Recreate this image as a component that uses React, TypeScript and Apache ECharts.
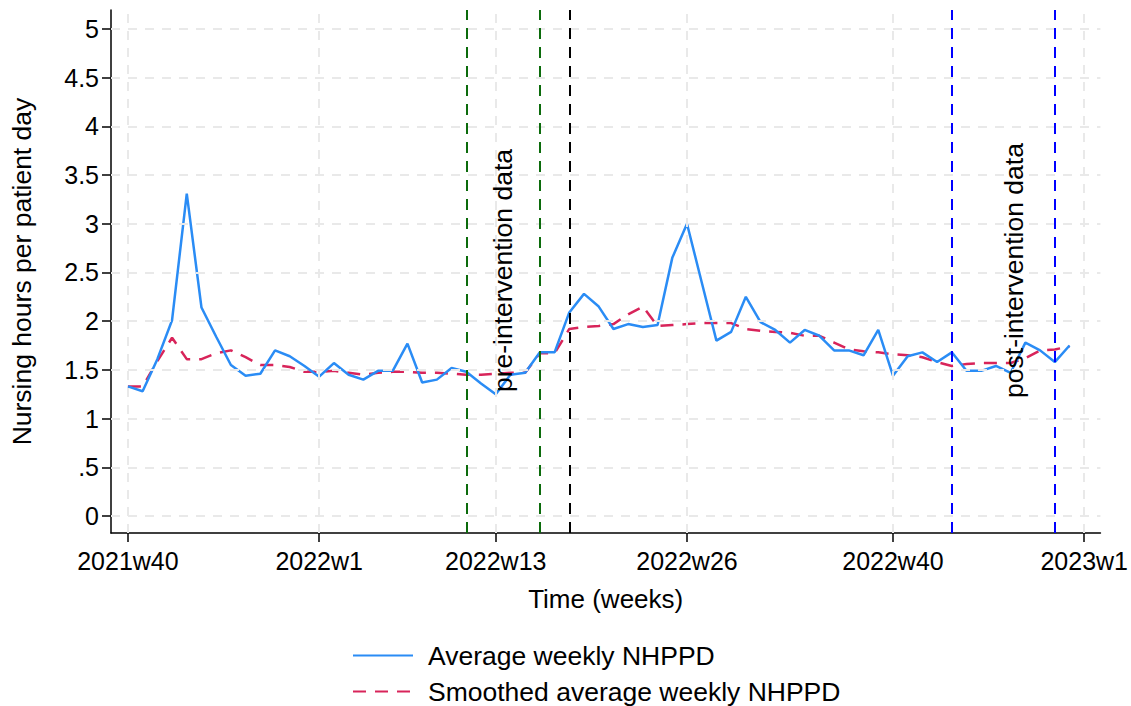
import React, { useEffect, useRef } from "react";
import * as echarts from "echarts";

// week index 0 = 2021w40
const xTickValues = [0, 13, 25, 38, 52, 65];
const xTickLabels = ["2021w40", "2022w1", "2022w13", "2022w26", "2022w40", "2023w1"];
const yTickValues = [0, 0.5, 1, 1.5, 2, 2.5, 3, 3.5, 4, 4.5, 5];
const yTickLabels = ["0", ".5", "1", "1.5", "2", "2.5", "3", "3.5", "4", "4.5", "5"];

const avgWeekly = [
  1.33, 1.28, 1.61, 2.01, 3.31, 2.14, 1.84, 1.55, 1.44, 1.46,
  1.70, 1.64, 1.54, 1.43, 1.57, 1.45, 1.40, 1.49, 1.49, 1.77,
  1.37, 1.40, 1.52, 1.48, 1.36, 1.25, 1.45, 1.47, 1.68, 1.68,
  2.09, 2.28, 2.15, 1.92, 1.97, 1.94, 1.96, 2.65, 3.00, 2.40,
  1.80, 1.89, 2.25, 1.99, 1.91, 1.78, 1.91, 1.85, 1.70, 1.70,
  1.65, 1.91, 1.44, 1.64, 1.68, 1.58, 1.68, 1.49, 1.49, 1.54,
  1.47, 1.78, 1.70, 1.58, 1.75,
];

const smoothed = [
  1.33, 1.33, 1.59, 1.83, 1.61, 1.61, 1.67, 1.70, 1.63, 1.55,
  1.55, 1.53, 1.48, 1.48, 1.49, 1.47, 1.45, 1.47, 1.48, 1.48,
  1.47, 1.47, 1.46, 1.45, 1.45, 1.46, 1.47, 1.47, 1.67, 1.67,
  1.92, 1.94, 1.95, 1.97, 2.07, 2.15, 1.95, 1.96, 1.97, 1.98,
  1.98, 1.98, 1.92, 1.90, 1.89, 1.88, 1.85, 1.85, 1.78, 1.71,
  1.69, 1.68, 1.66, 1.65, 1.63, 1.58, 1.54, 1.56, 1.57, 1.57,
  1.57, 1.62, 1.70, 1.71, 1.74,
];

// reference week lines (week index)
const preLines = [23, 28];
const interventionLine = [30];
const postLines = [56, 63];

const annotations = [
  { x: 25.5, y: 2.52, text: "pre-intervention data" },
  { x: 60.2, y: 2.52, text: "post-intervention data" },
];

const FONT = "'Liberation Sans', Arial, Helvetica, sans-serif";

export default function App() {
  const ref = useRef<HTMLDivElement>(null);

  useEffect(() => {
    if (!ref.current) return;
    const chart = echarts.init(ref.current, undefined, { renderer: "svg" });

    const gridDash = { color: "#e9e9e9", width: 2, type: [9, 8] as any };
    const refLine = (vals: number[], color: string) =>
      vals.map((v) => ({ xAxis: v, lineStyle: { color, width: 2, type: [11, 8] as any } }));

    const option: any = {
      animation: false,
      backgroundColor: "#ffffff",
      textStyle: { fontFamily: FONT },
      grid: { left: 110, right: 29, top: 10, bottom: 173 },
      xAxis: {
        type: "value",
        min: -1.15,
        max: 66.1,
        name: "Time (weeks)",
        nameLocation: "middle",
        nameGap: 53,
        nameTextStyle: { fontSize: 26, color: "#000", fontFamily: FONT },
        axisLine: { show: true, onZero: false, lineStyle: { color: "#000", width: 1.5 } },
        axisTick: { show: true, length: 9, lineStyle: { color: "#000", width: 1.5 }, customValues: xTickValues },
        axisLabel: {
          customValues: xTickValues,
          fontSize: 25,
          color: "#000",
          fontFamily: FONT,
          margin: 15,
          formatter: (v: number) => {
            const i = xTickValues.indexOf(Math.round(v));
            return i >= 0 ? xTickLabels[i] : "";
          },
        },
        splitLine: { show: false },
      },
      yAxis: {
        type: "value",
        min: -0.175,
        max: 5.195,
        name: "Nursing hours per patient day",
        nameLocation: "middle",
        nameGap: 76,
        nameRotate: 90,
        nameTextStyle: { fontSize: 26.5, color: "#000", fontFamily: FONT },
        axisLine: { show: true, onZero: false, lineStyle: { color: "#000", width: 1.5 } },
        axisTick: { show: true, length: 9, lineStyle: { color: "#000", width: 1.5 }, customValues: yTickValues },
        axisLabel: {
          customValues: yTickValues,
          fontSize: 25,
          color: "#000",
          fontFamily: FONT,
          margin: 12,
          formatter: (v: number) => {
            const i = yTickValues.findIndex((t) => Math.abs(t - v) < 1e-6);
            return i >= 0 ? yTickLabels[i] : "";
          },
        },
        splitLine: { show: false },
      },
      legend: {
        orient: "vertical",
        left: 352,
        top: 642,
        padding: 0,
        itemWidth: 60,
        itemHeight: 14,
        itemGap: 9,
        itemStyle: { opacity: 0 },
        textStyle: { fontSize: 26.5, color: "#000", fontFamily: FONT, lineHeight: 26, padding: [0, 0, 0, 10] },
        data: ["Average weekly NHPPD", "Smoothed average weekly NHPPD"],
      },
      series: [
        {
          name: "grid",
          type: "line",
          data: [],
          z: 1,
          silent: true,
          markLine: {
            silent: true,
            symbol: ["none", "none"],
            label: { show: false },
            lineStyle: gridDash,
            data: [
              ...yTickValues.map((v) => ({ yAxis: v })),
              ...xTickValues.map((v) => ({ xAxis: v })),
            ],
          },
        },
        {
          name: "refs",
          type: "line",
          data: [],
          z: 2,
          silent: true,
          markLine: {
            silent: true,
            symbol: ["none", "none"],
            label: { show: false },
            data: [
              ...refLine(preLines, "#0c6b0c"),
              ...refLine(interventionLine, "#000000"),
              ...refLine(postLines, "#0000ff"),
            ],
          },
        },
        {
          name: "Average weekly NHPPD",
          type: "line",
          z: 4,
          symbol: "none",
          data: avgWeekly.map((v, i) => [i, v]),
          lineStyle: { color: "#2a8cf5", width: 2.5 },
          itemStyle: { color: "#2a8cf5" },
        },
        {
          name: "Smoothed average weekly NHPPD",
          type: "line",
          z: 3,
          symbol: "none",
          data: smoothed.map((v, i) => [i, v]),
          lineStyle: { color: "#d8245a", width: 2.5, type: [13, 9] },
          itemStyle: { color: "#d8245a" },
        },
      ],
    };

    chart.setOption(option);

    const graphic = annotations.map((a) => {
      const [px, py] = chart.convertToPixel({ gridIndex: 0 }, [a.x, a.y]) as number[];
      return {
        type: "text",
        x: px,
        y: py,
        rotation: Math.PI / 2,
        z: 10,
        style: {
          text: a.text,
          fontSize: 26.5,
          fontFamily: FONT,
          fill: "#000",
          align: "center",
          verticalAlign: "middle",
        },
      };
    });
    chart.setOption({ graphic });

    return () => chart.dispose();
  }, []);

  return (
    <div
      ref={ref}
      style={{ position: "fixed", left: 0, top: 0, width: 1131, height: 706 }}
    />
  );
}
